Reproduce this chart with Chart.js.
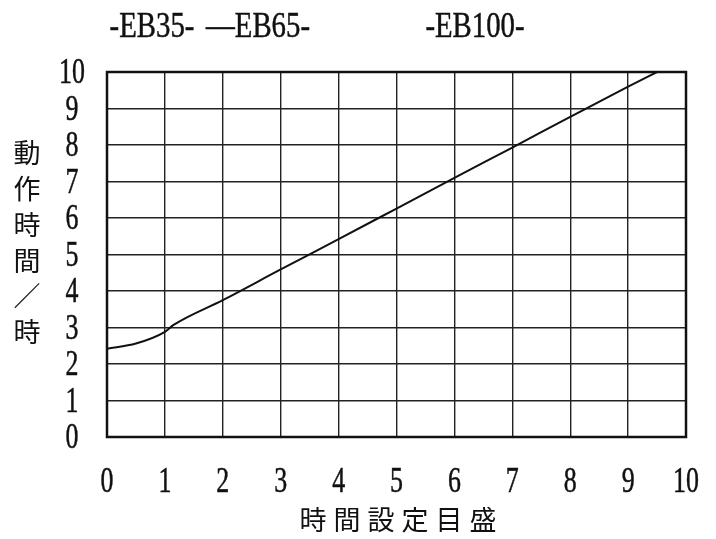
<!DOCTYPE html>
<html>
<head>
<meta charset="utf-8">
<script src="https://cdn.jsdelivr.net/npm/chart.js@4.4.0/dist/chart.umd.min.js"></script>
<style>
  html, body { margin: 0; padding: 0; background: #fff; }
  #wrap { width: 716px; height: 539px; }
</style>
</head>
<body>
<div id="wrap"><canvas id="chart"></canvas></div>
<script>
// reading from the picture
const xSetting = [0, 0.5, 1, 1.15, 2, 3, 4, 5, 6, 7, 8, 9, 9.5];
const hours = [2.42, 2.56, 2.88, 3.07, 3.75, 4.59, 5.42, 6.26, 7.1, 7.93, 8.77, 9.6, 10];
const xTicks = [0, 1, 2, 3, 4, 5, 6, 7, 8, 9, 10];
const yTicks = [0, 1, 2, 3, 4, 5, 6, 7, 8, 9, 10];
const topLabels = ["-EB35-", "—EB65-", "-EB100-"];
const topLabelX = [152, 258, 475];
const xTitle = "時間設定目盛";
const yTitle = ["動", "作", "時", "間", "／", "時"];

const SERIF = '"Liberation Serif", "Times New Roman", serif';
const CJK = '"Noto Sans CJK JP", "Noto Sans CJK TC", sans-serif';

// draws condensed serif text (the original uses a narrow typeface)
function narrowText(ctx, text, x, y, size, sx) {
  ctx.save();
  ctx.font = size + "px " + SERIF;
  ctx.textAlign = "center";
  ctx.textBaseline = "middle";
  ctx.translate(x, y);
  ctx.scale(sx || 0.75, 1);
  ctx.lineWidth = 0.5;
  ctx.strokeStyle = "#111";
  ctx.fillText(text, 0, 0);
  ctx.strokeText(text, 0, 0);
  ctx.restore();
}

const textPlugin = {
  id: "textPlugin",
  afterDraw(chart) {
    const ctx = chart.ctx;
    const xs = chart.scales.x, ys = chart.scales.y;
    ctx.fillStyle = "#111";

    // tick labels
    xTicks.forEach(v => narrowText(ctx, String(v), xs.getPixelForValue(v), 483, 35, 0.74));
    yTicks.forEach(v => narrowText(ctx, String(v), 72, ys.getPixelForValue(v) + 2, 35, 0.74));

    // top labels
    topLabels.forEach((t, i) => narrowText(ctx, t, topLabelX[i], 28, 36, 0.8));

    // axis titles
    ctx.save();
    ctx.font = "27px " + CJK;
    ctx.textAlign = "center";
    ctx.textBaseline = "middle";
    for (let i = 0; i < xTitle.length; i++) {
      ctx.fillText(xTitle[i], 313 + i * 34, 520);
    }
    yTitle.forEach((c, i) => ctx.fillText(c, 27, 153 + i * 35.8));
    ctx.restore();

    // heavier frame
    const a = chart.chartArea;
    ctx.save();
    ctx.strokeStyle = "#111";
    ctx.lineWidth = 2.5;
    ctx.strokeRect(a.left, a.top, a.right - a.left, a.bottom - a.top);
    ctx.restore();
  }
};

new Chart(document.getElementById("chart"), {
  type: "line",
  data: {
    datasets: [{
      data: xSetting.map((x, i) => ({ x: x, y: hours[i] })),
      borderColor: "#111",
      borderWidth: 2,
      pointRadius: 0,
      fill: false,
      cubicInterpolationMode: "monotone"
    }]
  },
  options: {
    responsive: true,
    maintainAspectRatio: false,
    animation: false,
    layout: { padding: { left: 0, right: 30, top: 72, bottom: 0 } },
    plugins: {
      legend: { display: false },
      tooltip: { enabled: false }
    },
    scales: {
      x: {
        type: "linear",
        min: 0,
        max: 10,
        afterFit: s => { s.height = 102; },
        ticks: { display: false, stepSize: 1 },
        grid: { color: "#222", lineWidth: 1.4, drawTicks: false },
        border: { display: false }
      },
      y: {
        min: 0,
        max: 10,
        afterFit: s => { s.width = 107; },
        ticks: { display: false, stepSize: 1 },
        grid: { color: "#222", lineWidth: 1.4, drawTicks: false },
        border: { display: false }
      }
    }
  },
  plugins: [textPlugin]
});
</script>
</body>
</html>
